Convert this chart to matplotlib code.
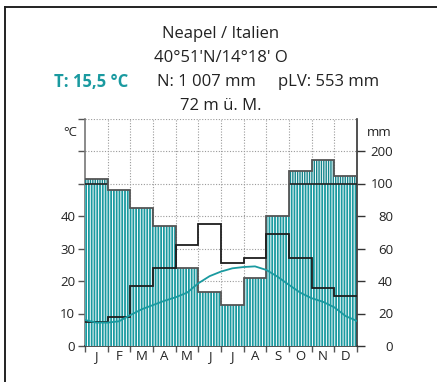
import numpy as np
import matplotlib
matplotlib.use("Agg")
import matplotlib.pyplot as plt
from matplotlib.lines import Line2D

# ---- data ----
months = ["J", "F", "M", "A", "M", "J", "J", "A", "S", "O", "N", "D"]
precip_mm = [113, 96, 85, 74, 48, 33, 25, 42, 80, 138, 172, 122]   # N
plv_mm = [15, 18, 37, 48, 62, 75, 51, 54, 69, 54, 36, 31]          # pLV
# temperature curve sampled every half month (position in months, degC)
temp_pos = [0, 0.5, 1, 1.5, 2, 2.5, 3, 3.5, 4, 4.5, 5, 5.5, 6, 6.5, 7, 7.5,
            8, 8.5, 9, 9.5, 10, 10.5, 11, 11.5, 12]
temp_c = [8.0, 7.2, 7.2, 7.6, 9.5, 11.3, 12.6, 13.9, 15.0, 16.4, 19.3, 21.5,
          22.9, 23.9, 24.3, 24.5, 23.4, 21.3, 18.8, 16.4, 14.7, 13.6, 11.9,
          9.2, 7.7]
left_ticks = [0, 10, 20, 30, 40, 50, 60, 70]
left_labels = ["0", "10", "20", "30", "40", "", "", ""]
right_ticks = [0, 20, 40, 60, 80, 100, 200]
right_labels = ["0", "20", "40", "60", "80", "100", "200"]

TEAL = "#1a9aa0"
TEAL_DARK = "#13848b"
FONT = ["Open Sans", "DejaVu Sans"]
plt.rcParams["font.family"] = FONT
plt.rcParams["hatch.linewidth"] = 0.7

W, H = 437, 382
fig = plt.figure(figsize=(W / 100, H / 100), dpi=100)

# outer frame (top + left)
fig.add_artist(Line2D([5 / W, 5 / W], [0, 1 - 7 / H], transform=fig.transFigure,
                      color="#222222", lw=1.4))
fig.add_artist(Line2D([5 / W, 1], [1 - 7 / H, 1 - 7 / H], transform=fig.transFigure,
                      color="#222222", lw=1.4))

x0, x1 = 85, 357
y0, y1 = 346, 118.5
ax = fig.add_axes([x0 / W, 1 - y0 / H, (x1 - x0) / W, (y0 - y1) / H])
ax.set_xlim(0, 12)
ax.set_ylim(0, 70)


def fwd(v):
    v = np.asarray(v, dtype=float)
    return np.where(v <= 100, v / 2.0, 50 + (v - 100) / 10.0)


def inv(u):
    u = np.asarray(u, dtype=float)
    return np.where(u <= 50, u * 2.0, 100 + (u - 50) * 10.0)


ax2 = ax.twinx()
ax2.set_yscale("function", functions=(fwd, inv))
ax2.set_ylim(0, 300)
ax2.set_xlim(0, 12)

# grid (drawn beneath)
for yv in range(10, 71, 10):
    ax.axhline(yv, color="#9a9a9a", lw=0.8, ls=(0, (1, 1.5)), zorder=0)
for xv in range(1, 12):
    ax.axvline(xv, color="#9a9a9a", lw=0.8, ls=(0, (1, 1.5)), zorder=0)
ax.set_zorder(0)
ax2.set_zorder(1)
ax2.patch.set_visible(False)

edges = np.arange(13)
p = np.array(precip_mm, dtype=float)
low = np.minimum(p, 100)
high_top = np.maximum(p, 100)
mask = p > 100

ax2.stairs(low, edges, baseline=0, fill=True, color=TEAL, lw=0, zorder=1)
ax2.stairs(low, edges, baseline=0, fill=True, facecolor="none",
           edgecolor="white", hatch="||||||", lw=0, zorder=1.1)
ax2.stairs(high_top, edges, baseline=100, fill=True, color=TEAL_DARK, lw=0,
           zorder=1)
ax2.stairs(high_top, edges, baseline=100, fill=True, facecolor="none",
           edgecolor="white", hatch="|||||||", lw=0, zorder=1.1)
ax2.hlines([100] * mask.sum(), edges[:-1][mask], edges[1:][mask],
           color="#222222", lw=1.2, zorder=3)

ax2.stairs(p, edges, baseline=None, color="#555555", lw=1.3, zorder=3)
ax2.stairs(plv_mm, edges, baseline=None, color="#1e1e1e", lw=1.3, zorder=4)

# temperature curve: °C converted to the mm scale (1 °C = 2 mm below 100 mm)
ax2.plot(temp_pos, inv(np.array(temp_c)), color=TEAL, lw=1.3, zorder=10)
ax2.set_ylim(0, 300)

# spines / ticks
for a in (ax, ax2):
    a.spines["top"].set_visible(False)
ax.spines["left"].set_color("#777777")
ax.spines["left"].set_linewidth(1.2)
ax.spines["bottom"].set_color("#333333")
ax.spines["bottom"].set_linewidth(1.2)
ax.spines["right"].set_visible(False)
ax2.spines["left"].set_visible(False)
ax2.spines["bottom"].set_visible(False)
ax2.spines["right"].set_color("#333333")
ax2.spines["right"].set_linewidth(1.2)

ax.set_yticks(left_ticks)
ax.set_yticklabels(left_labels)
ax.tick_params(axis="y", direction="out", length=5, width=1, color="#555555",
               labelsize=9.5, pad=2, labelcolor="#222222")
ax.set_xticks(edges)
ax.set_xticklabels([""] * 13)
ax.set_xticks(edges[:-1] + 0.5, minor=True)
ax.set_xticklabels(months, minor=True)
ax.tick_params(axis="x", which="major", direction="out", length=4, width=1,
               color="#555555")
ax.tick_params(axis="x", which="minor", length=0, labelsize=9.5, pad=3,
               labelcolor="#222222")

ax2.set_yticks(right_ticks)
ax2.set_yticklabels(right_labels)
ax2.yaxis.set_minor_locator(matplotlib.ticker.NullLocator())
ax2.tick_params(axis="y", direction="out", length=6, width=1, color="#333333",
                labelsize=9.5, pad=20, labelcolor="#222222")
for lab in ax2.get_yticklabels():
    lab.set_horizontalalignment("right")

fig.text(77 / W, 1 - 133 / H, "°C", ha="right", va="center", fontsize=9.5,
         color="#222222")
fig.text(392 / W, 1 - 133 / H, "mm", ha="right", va="center", fontsize=9.5,
         color="#222222")

# header
fig.text(221 / W, 1 - 34 / H, "Neapel / Italien", ha="center", va="center",
         fontsize=12, color="#222222")
fig.text(221 / W, 1 - 58 / H, "40°51'N/14°18' O", ha="center", va="center",
         fontsize=12, color="#222222")
fig.text(54 / W, 1 - 82 / H, "T: 15,5 °C", ha="left", va="center", fontsize=12,
         color=TEAL, fontweight="bold")
fig.text(157 / W, 1 - 82 / H, "N: 1 007 mm", ha="left", va="center",
         fontsize=12, color="#222222")
fig.text(278 / W, 1 - 82 / H, "pLV: 553 mm", ha="left", va="center",
         fontsize=12, color="#222222")
fig.text(221 / W, 1 - 106 / H, "72 m ü. M.", ha="center", va="center",
         fontsize=12, color="#222222")

fig.savefig("out.png", dpi=100)
